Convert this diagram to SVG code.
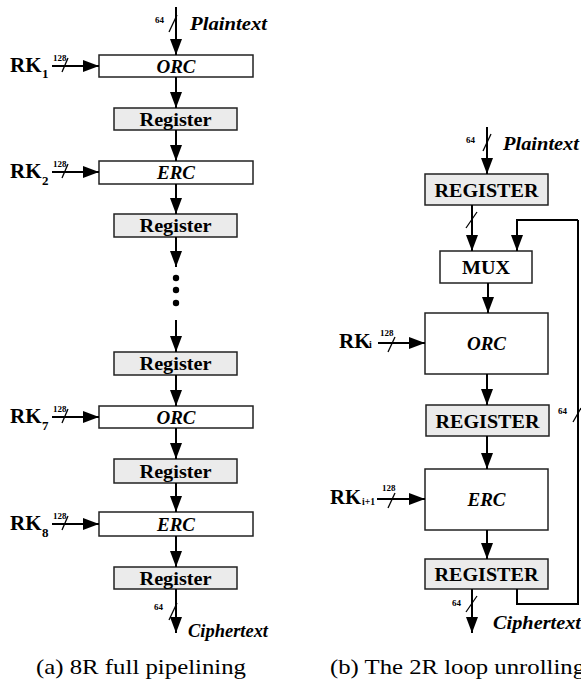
<svg xmlns="http://www.w3.org/2000/svg" width="581" height="684" viewBox="0 0 581 684" font-family="Liberation Serif, DejaVu Serif, serif">
<defs>
<marker id="ah" markerUnits="userSpaceOnUse" markerWidth="16" markerHeight="12" refX="16" refY="6" orient="auto">
<path d="M0,0 L16,6 L0,12 z" fill="#000"/>
</marker>
<style>
.box{fill:#fff;stroke:#222;stroke-width:1.5}
.reg{fill:#ebebeb;stroke:#222;stroke-width:1.5}
.lbl{font-weight:bold;font-size:19px;text-anchor:middle}
.it{font-style:italic}
.io{font-weight:bold;font-style:italic;font-size:18px}
.rk{font-weight:bold;font-size:21px}
.sub{font-weight:bold;font-size:13px}
.subs{font-weight:bold;font-size:10px}
.w{font-weight:bold;font-size:9px}
.cap{font-size:21px}
.ln{fill:none;stroke:#000;stroke-width:2}
.arr{fill:none;stroke:#000;stroke-width:2;marker-end:url(#ah)}
.sl{stroke:#000;stroke-width:1.3}
</style>
</defs>

<!-- Left (a) -->
<g id="a_orc1"><rect class="box" x="99" y="55" width="154" height="22"/><text class="lbl it" x="176" y="72.5">ORC</text></g>
<g id="a_reg1"><rect class="reg" x="114" y="108" width="123" height="22"/><text class="lbl" x="175.5" y="125.5" textLength="72" lengthAdjust="spacingAndGlyphs">Register</text></g>
<g id="a_erc2"><rect class="box" x="99" y="161" width="154" height="23"/><text class="lbl it" x="176" y="179">ERC</text></g>
<g id="a_reg2"><rect class="reg" x="114" y="214" width="123" height="23"/><text class="lbl" x="175.5" y="232" textLength="72" lengthAdjust="spacingAndGlyphs">Register</text></g>
<g id="a_dots"><circle cx="176" cy="278" r="3.2"/><circle cx="176" cy="290" r="3.2"/><circle cx="176" cy="303" r="3.2"/></g>
<g id="a_reg3"><rect class="reg" x="114" y="352" width="123" height="23"/><text class="lbl" x="175.5" y="370" textLength="72" lengthAdjust="spacingAndGlyphs">Register</text></g>
<g id="a_orc7"><rect class="box" x="99" y="406" width="154" height="22"/><text class="lbl it" x="176" y="423.5">ORC</text></g>
<g id="a_reg4"><rect class="reg" x="114" y="459" width="123" height="24"/><text class="lbl" x="175.5" y="477.5" textLength="72" lengthAdjust="spacingAndGlyphs">Register</text></g>
<g id="a_erc8"><rect class="box" x="99" y="512" width="154" height="24"/><text class="lbl it" x="176" y="530.5">ERC</text></g>
<g id="a_reg5"><rect class="reg" x="114" y="567" width="123" height="22"/><text class="lbl" x="175.5" y="584.5" textLength="72" lengthAdjust="spacingAndGlyphs">Register</text></g>

<g id="a_rk1"><text class="rk" x="10" y="72">RK</text><text class="sub" x="42" y="78">1</text><text class="w" x="53" y="61">128</text></g>
<g id="a_rk2"><text class="rk" x="10" y="178">RK</text><text class="sub" x="42" y="185">2</text><text class="w" x="53" y="167">128</text></g>
<g id="a_rk7"><text class="rk" x="10" y="423">RK</text><text class="sub" x="42" y="430">7</text><text class="w" x="53" y="412">128</text></g>
<g id="a_rk8"><text class="rk" x="10" y="530">RK</text><text class="sub" x="42" y="537">8</text><text class="w" x="53" y="519">128</text></g>
<g id="a_pt"><text class="io" x="190" y="30" textLength="77" lengthAdjust="spacingAndGlyphs">Plaintext</text><text class="w" x="155" y="23">64</text></g>
<g id="a_ct"><text class="io" x="188" y="637" textLength="80" lengthAdjust="spacingAndGlyphs">Ciphertext</text><text class="w" x="154" y="610">64</text></g>

<!-- Right (b) -->
<g id="b_reg_in"><rect class="reg" x="425" y="174" width="123" height="31"/><text class="lbl" x="486.5" y="196.5" textLength="104" lengthAdjust="spacingAndGlyphs">REGISTER</text></g>
<g id="b_mux"><rect class="box" x="440" y="251" width="92" height="32"/><text class="lbl" x="486" y="274" textLength="48" lengthAdjust="spacingAndGlyphs">MUX</text></g>
<g id="b_orc"><rect class="box" x="425" y="313" width="123" height="61"/><text class="lbl it" x="486.5" y="350">ORC</text></g>
<g id="b_reg_mid"><rect class="reg" x="426" y="405" width="123" height="31"/><text class="lbl" x="487.5" y="427.5" textLength="104" lengthAdjust="spacingAndGlyphs">REGISTER</text></g>
<g id="b_erc"><rect class="box" x="425" y="469" width="123" height="61"/><text class="lbl it" x="486.5" y="506">ERC</text></g>
<g id="b_reg_out"><rect class="reg" x="425" y="559" width="123" height="30"/><text class="lbl" x="486.5" y="581" textLength="104" lengthAdjust="spacingAndGlyphs">REGISTER</text></g>

<g id="b_rki"><text class="rk" x="339" y="348">RK</text><text class="subs" x="369" y="348">i</text><text class="w" x="380" y="336">128</text></g>
<g id="b_rki1"><text class="rk" x="330" y="504" textLength="31" lengthAdjust="spacingAndGlyphs">RK</text><text class="subs" x="362" y="505" textLength="13" lengthAdjust="spacingAndGlyphs">i+1</text><text class="w" x="382" y="491">128</text></g>
<g id="b_pt"><text class="io" x="503" y="150" textLength="76" lengthAdjust="spacingAndGlyphs">Plaintext</text><text class="w" x="466" y="143">64</text></g>
<g id="b_ct"><text class="io" x="493" y="629" textLength="88" lengthAdjust="spacingAndGlyphs">Ciphertext</text><text class="w" x="452" y="606">64</text></g>
<g id="b_fb"><text class="w" x="558" y="414">64</text></g>

<!-- Connectors -->
<g id="connectors">
<path class="arr" d="M176,7 V55"/>
<path class="arr" d="M176,77 V108"/>
<path class="arr" d="M176,130 V161"/>
<path class="arr" d="M176,184 V214"/>
<path class="arr" d="M176,237 V267"/>
<path class="arr" d="M176,320 V352"/>
<path class="arr" d="M176,375 V406"/>
<path class="arr" d="M176,428 V459"/>
<path class="arr" d="M176,483 V512"/>
<path class="arr" d="M176,536 V567"/>
<path class="arr" d="M176,589 V633"/>
<path class="arr" d="M52,66 H99"/>
<path class="arr" d="M52,172 H99"/>
<path class="arr" d="M52,417 H99"/>
<path class="arr" d="M52,524 H99"/>

<path class="arr" d="M487,127 V174"/>
<path class="arr" d="M472,205 V251"/>
<path class="arr" d="M578,220 H517 V251"/>
<path class="arr" d="M488,283 V313"/>
<path class="arr" d="M487,374 V405"/>
<path class="arr" d="M487,436 V469"/>
<path class="arr" d="M487,530 V559"/>
<path class="arr" d="M472,589 V633"/>
<path class="ln" d="M517,589 V604 H578 V220"/>
<path class="arr" d="M378,343 H425"/>
<path class="arr" d="M377,499 H425"/>

<!-- bus width slashes -->
<line class="sl" x1="169" y1="32" x2="177" y2="15"/>
<line class="sl" x1="169" y1="620" x2="177" y2="603"/>
<line class="sl" x1="62" y1="72" x2="68" y2="58"/>
<line class="sl" x1="62" y1="178" x2="68" y2="164"/>
<line class="sl" x1="62" y1="423" x2="68" y2="409"/>
<line class="sl" x1="62" y1="530" x2="68" y2="516"/>
<line class="sl" x1="483" y1="151" x2="491" y2="134"/>
<line class="sl" x1="466" y1="228" x2="477" y2="212"/>
<line class="sl" x1="466" y1="612" x2="477" y2="596"/>
<line class="sl" x1="573" y1="422" x2="581" y2="408"/>
<line class="sl" x1="388" y1="352" x2="395" y2="337"/>
<line class="sl" x1="388" y1="508" x2="395" y2="493"/>
</g>

<!-- Captions -->
<g id="captions">
<text class="cap" x="36" y="674" textLength="210" lengthAdjust="spacingAndGlyphs">(a) 8R full pipelining</text>
<text class="cap" x="330" y="674" textLength="255" lengthAdjust="spacingAndGlyphs">(b) The 2R loop unrolling</text>
</g>
</svg>
